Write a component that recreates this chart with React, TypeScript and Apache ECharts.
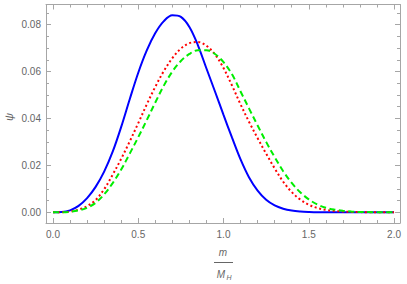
import React, { useEffect, useRef } from "react";
import * as echarts from "echarts";

const xs = [0, 0.05, 0.1, 0.15, 0.2, 0.25, 0.3, 0.35, 0.4, 0.45, 0.5, 0.55, 0.6, 0.65, 0.7, 0.75, 0.8, 0.85, 0.9, 0.95, 1.0, 1.05, 1.1, 1.15, 1.2, 1.25, 1.3, 1.35, 1.4, 1.45, 1.5, 1.55, 1.6, 1.65, 1.7, 1.75, 1.8, 1.85, 1.9, 1.95, 2.0];

const blue = [0, 0.0001, 0.0008, 0.0027, 0.006, 0.0108, 0.0173, 0.0258, 0.0364, 0.0482, 0.0595, 0.069, 0.0764, 0.0815, 0.084, 0.0833, 0.079, 0.0712, 0.0613, 0.0515, 0.0415, 0.0318, 0.0225, 0.0148, 0.0092, 0.0053, 0.0029, 0.0015, 0.0007, 0.0003, 0.0001, 0, 0, 0, 0, 0, 0, 0, 0, 0, 0];

const red = [0, 0.00003, 0.0003, 0.0011, 0.0026, 0.0052, 0.0098, 0.016, 0.0228, 0.0302, 0.038, 0.046, 0.0535, 0.0602, 0.0657, 0.0698, 0.0721, 0.0726, 0.071, 0.0673, 0.0615, 0.054, 0.046, 0.0385, 0.0316, 0.025, 0.0187, 0.013, 0.0086, 0.0054, 0.0032, 0.0018, 0.001, 0.0005, 0.0003, 0.0001, 0.00005, 0, 0, 0, 0];

const green = [0, 0.00002, 0.0002, 0.0008, 0.0019, 0.004, 0.0076, 0.0124, 0.0182, 0.025, 0.032, 0.0393, 0.0468, 0.054, 0.06, 0.0645, 0.0675, 0.0691, 0.0691, 0.0675, 0.064, 0.0588, 0.0515, 0.0442, 0.037, 0.03, 0.0235, 0.0175, 0.0125, 0.0085, 0.0055, 0.0033, 0.0019, 0.0011, 0.0006, 0.0003, 0.0001, 0.00005, 0, 0, 0];

const xMajor = [0, 0.5, 1.0, 1.5, 2.0];
const xMinor = [0.1, 0.2, 0.3, 0.4, 0.6, 0.7, 0.8, 0.9, 1.1, 1.2, 1.3, 1.4, 1.6, 1.7, 1.8, 1.9];
const yMajor = [0, 0.02, 0.04, 0.06, 0.08];
const yMinor = [0.005, 0.01, 0.015, 0.025, 0.03, 0.035, 0.045, 0.05, 0.055, 0.065, 0.07, 0.075, 0.085];

const FRAME = "#a6a6a6";
const LABEL = "#666666";
const FONT = "Liberation Sans";

function pairs(ys: number[]) {
  return xs.map((x, i) => [x, ys[i]]);
}

export default function App() {
  const ref = useRef<HTMLDivElement>(null);
  useEffect(() => {
    if (!ref.current) return;
    const chart = echarts.init(ref.current, null, { renderer: "svg" });
    const xMin = -0.041, xMax = 2.035, yMin = -0.0046, yMax = 0.0886;
    const mkX = (pos: string, vals: number[], len: number, labels: boolean, line: boolean) => ({
      type: "value",
      position: pos,
      min: xMin,
      max: xMax,
      splitLine: { show: false },
      axisLine: { show: line, onZero: false, lineStyle: { color: FRAME, width: 1 } },
      axisTick: { show: true, inside: true, length: len, customValues: vals, lineStyle: { color: FRAME } },
      axisLabel: labels
        ? { show: true, customValues: vals, margin: 6, color: LABEL, fontFamily: FONT, fontSize: 10, formatter: (v: number) => v.toFixed(1) }
        : { show: false },
    });
    const mkY = (pos: string, vals: number[], len: number, labels: boolean, line: boolean) => ({
      type: "value",
      position: pos,
      min: yMin,
      max: yMax,
      splitLine: { show: false },
      axisLine: { show: line, onZero: false, lineStyle: { color: FRAME, width: 1 } },
      axisTick: { show: true, inside: true, length: len, customValues: vals, lineStyle: { color: FRAME } },
      axisLabel: labels
        ? { show: true, customValues: vals, margin: 5, color: LABEL, fontFamily: FONT, fontSize: 10, formatter: (v: number) => v.toFixed(2) }
        : { show: false },
    });
    chart.setOption({
      animation: false,
      grid: { left: 46, right: 7, top: 4.5, bottom: 61, containLabel: false },
      xAxis: [
        mkX("bottom", xMajor, 5, true, true),
        mkX("bottom", xMinor, 3, false, false),
        mkX("top", xMajor, 5, false, true),
        mkX("top", xMinor, 3, false, false),
      ],
      yAxis: [
        mkY("left", yMajor, 5, true, true),
        mkY("left", yMinor, 3, false, false),
        mkY("right", yMajor, 5, false, true),
        mkY("right", yMinor, 3, false, false),
      ],
      series: [
        {
          type: "line", name: "blue", data: pairs(blue), showSymbol: false, smooth: 0.35,
          lineStyle: { color: "#0000ff", width: 2 }, xAxisIndex: 0, yAxisIndex: 0,
        },
        {
          type: "line", name: "red", data: pairs(red), showSymbol: false, smooth: 0.35,
          lineStyle: { color: "#ff0000", width: 2, type: [2, 2.6] }, xAxisIndex: 0, yAxisIndex: 0,
        },
        {
          type: "line", name: "green", data: pairs(green), showSymbol: false, smooth: 0.35,
          lineStyle: { color: "#00ee00", width: 2, type: [6, 3.5] }, xAxisIndex: 0, yAxisIndex: 0,
        },
      ],
      graphic: [
        {
          type: "text", x: 9, y: 117, rotation: Math.PI / 2,
          style: { text: "ψ", fill: LABEL, font: `italic 11px ${FONT}`, align: "center", verticalAlign: "middle" },
        },
        {
          type: "text", x: 223, y: 252,
          style: { text: "m", fill: LABEL, font: `italic 10px ${FONT}`, align: "center", verticalAlign: "middle" },
        },
        {
          type: "line", shape: { x1: 214, y1: 262.5, x2: 233, y2: 262.5 },
          style: { stroke: LABEL, lineWidth: 1 },
        },
        {
          type: "text", x: 221, y: 274,
          style: { text: "M", fill: LABEL, font: `italic 10px ${FONT}`, align: "center", verticalAlign: "middle" },
        },
        {
          type: "text", x: 229, y: 277,
          style: { text: "H", fill: LABEL, font: `italic 7px ${FONT}`, align: "center", verticalAlign: "middle" },
        },
      ],
    });
    return () => chart.dispose();
  }, []);
  return <div ref={ref} style={{ width: 407, height: 284, position: "absolute", left: 0, top: 0 }} />;
}
